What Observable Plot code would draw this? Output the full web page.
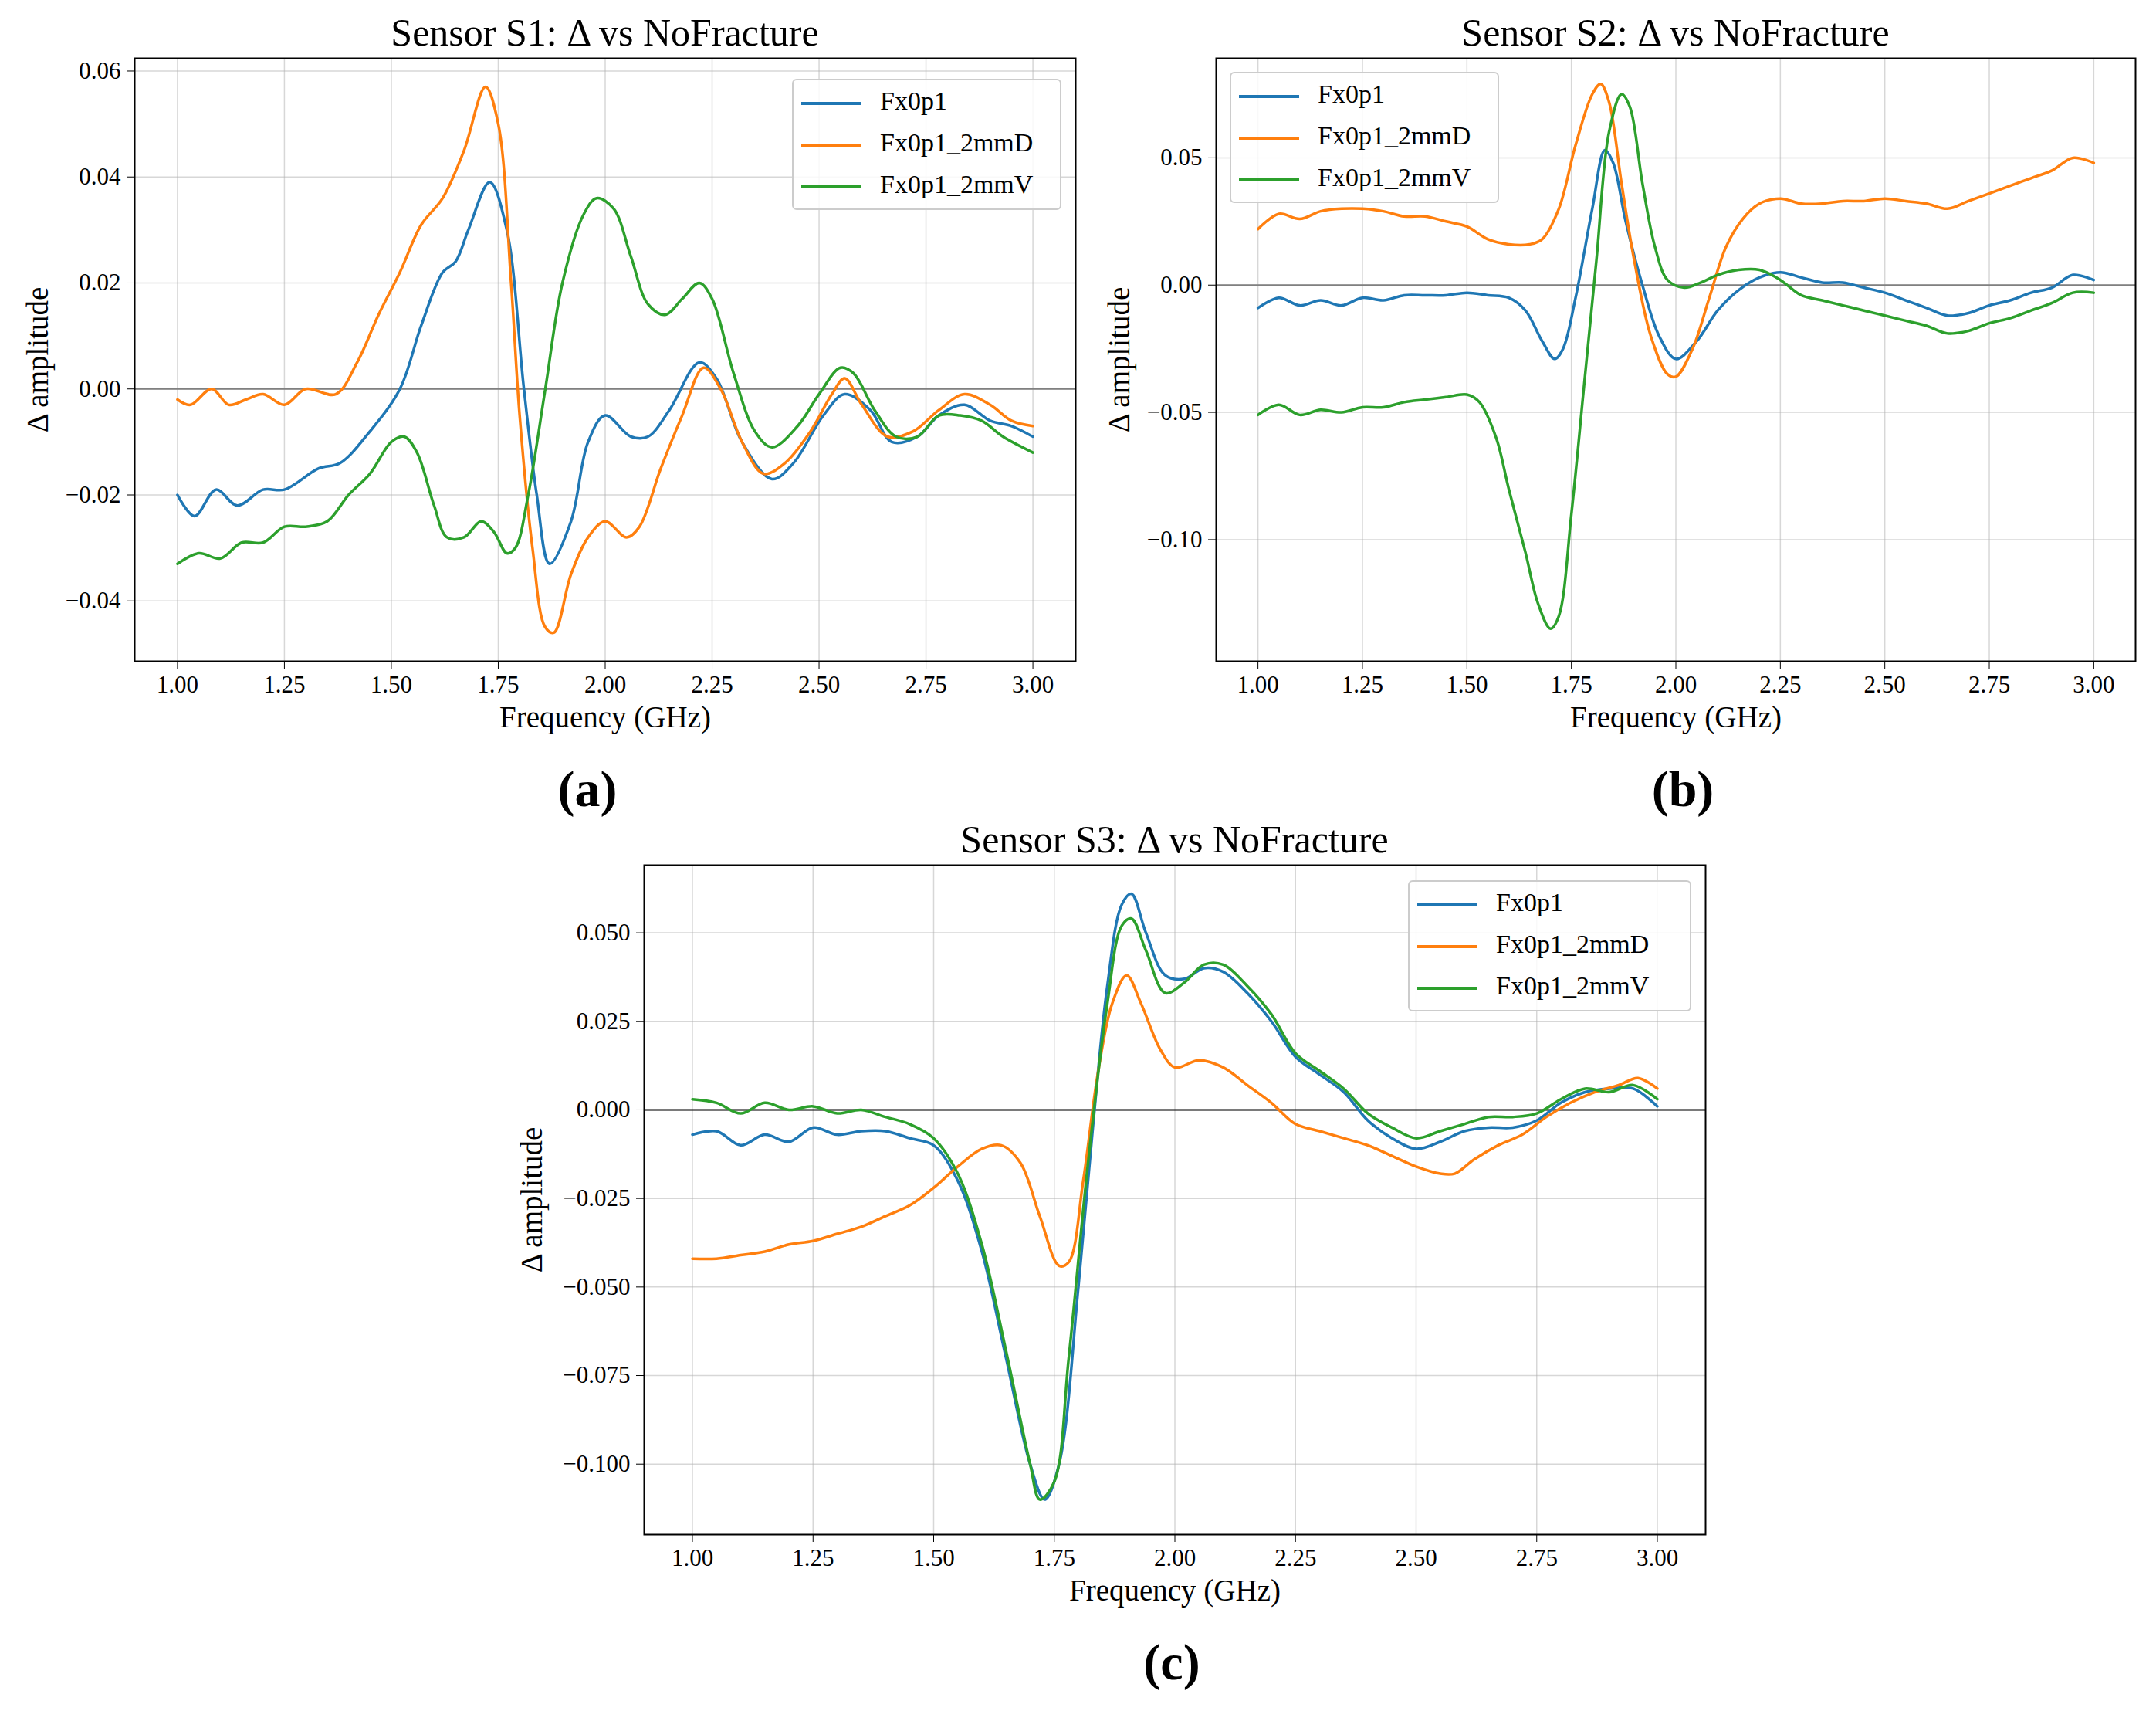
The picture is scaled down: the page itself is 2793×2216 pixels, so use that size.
<!DOCTYPE html>
<html><head><meta charset="utf-8">
<script src="https://cdn.jsdelivr.net/npm/d3@7"></script>
<script src="https://cdn.jsdelivr.net/npm/@observablehq/plot@0.6"></script>
<style>
body{margin:0;background:#fff;font-family:"Liberation Serif",serif;}
#root{position:relative;width:2793px;height:2216px;}
.abs{position:absolute;}
.title{font-size:50px;white-space:nowrap;transform:translateX(-50%);}
.tag{font-size:66px;font-weight:bold;transform:translateX(-50%);}
.leg{border:2px solid #ccc;border-radius:6px;background:rgba(255,255,255,0.85);font-size:34px;}
.leg div{position:absolute;white-space:nowrap;}
.leg span{display:inline-block;width:78px;height:4px;vertical-align:middle;margin-right:24px;}
</style></head><body><div id="root"></div>
<script>
const seriesNames = ["Fx0p1","Fx0p1_2mmD","Fx0p1_2mmV"];
const colors = ["#1f77b4","#ff7f0e","#2ca02c"];
const xTicks = [1.00,1.25,1.50,1.75,2.00,2.25,2.50,2.75,3.00];

// Panel (a)
const aBlueF=[1.00,1.04,1.09,1.14,1.20,1.25,1.33,1.38,1.45,1.52,1.57,1.62,1.65,1.68,1.73,1.77,1.81,1.84,1.87,1.92,1.96,2.00,2.06,2.10,2.15,2.22,2.26,2.32,2.39,2.44,2.51,2.56,2.62,2.67,2.73,2.78,2.84,2.90,2.95,3.00];
const aBlueV=[-0.020,-0.024,-0.019,-0.022,-0.019,-0.019,-0.015,-0.014,-0.008,0.000,0.012,0.022,0.024,0.030,0.039,0.030,0.000,-0.020,-0.033,-0.025,-0.010,-0.005,-0.009,-0.009,-0.004,0.005,0.002,-0.010,-0.017,-0.014,-0.005,-0.001,-0.004,-0.010,-0.009,-0.005,-0.003,-0.006,-0.007,-0.009];
const aOrangeF=[1.00,1.03,1.08,1.12,1.16,1.20,1.25,1.30,1.37,1.42,1.47,1.52,1.57,1.62,1.67,1.72,1.75,1.78,1.80,1.83,1.86,1.88,1.92,1.96,2.00,2.05,2.08,2.13,2.18,2.23,2.27,2.32,2.37,2.42,2.48,2.53,2.56,2.60,2.66,2.72,2.78,2.84,2.90,2.95,3.00];
const aOrangeV=[-0.002,-0.003,0.000,-0.003,-0.002,-0.001,-0.003,0.000,-0.001,0.005,0.014,0.022,0.031,0.036,0.045,0.057,0.050,0.020,-0.005,-0.030,-0.045,-0.046,-0.035,-0.028,-0.025,-0.028,-0.026,-0.015,-0.005,0.004,0.000,-0.010,-0.016,-0.014,-0.008,-0.001,0.002,-0.003,-0.009,-0.008,-0.004,-0.001,-0.003,-0.006,-0.007];
const aGreenF=[1.00,1.05,1.10,1.15,1.20,1.25,1.30,1.35,1.40,1.45,1.50,1.53,1.56,1.60,1.63,1.67,1.71,1.74,1.77,1.79,1.82,1.86,1.90,1.95,1.98,2.02,2.06,2.10,2.14,2.18,2.22,2.25,2.30,2.35,2.39,2.45,2.50,2.55,2.58,2.63,2.68,2.73,2.78,2.83,2.88,2.93,3.00];
const aGreenV=[-0.033,-0.031,-0.032,-0.029,-0.029,-0.026,-0.026,-0.025,-0.020,-0.016,-0.010,-0.009,-0.012,-0.022,-0.028,-0.028,-0.025,-0.027,-0.031,-0.030,-0.020,0.000,0.020,0.033,0.036,0.034,0.025,0.016,0.014,0.017,0.020,0.017,0.003,-0.008,-0.011,-0.007,-0.001,0.004,0.003,-0.004,-0.009,-0.009,-0.005,-0.005,-0.006,-0.009,-0.012];
const aYTicks=[-0.04,-0.02,0.00,0.02,0.04,0.06];

// Panel (b)
const bBlueF=[1.00,1.05,1.10,1.15,1.20,1.25,1.30,1.35,1.40,1.45,1.50,1.55,1.60,1.64,1.68,1.71,1.73,1.76,1.80,1.83,1.85,1.88,1.92,1.96,2.00,2.05,2.10,2.15,2.20,2.25,2.30,2.35,2.40,2.45,2.50,2.55,2.60,2.65,2.70,2.75,2.80,2.85,2.90,2.95,3.00];
const bBlueV=[-0.009,-0.005,-0.008,-0.006,-0.008,-0.005,-0.006,-0.004,-0.004,-0.004,-0.003,-0.004,-0.005,-0.010,-0.022,-0.029,-0.025,-0.005,0.030,0.053,0.048,0.025,0.000,-0.020,-0.029,-0.022,-0.010,-0.002,0.003,0.005,0.003,0.001,0.001,-0.001,-0.003,-0.006,-0.009,-0.012,-0.011,-0.008,-0.006,-0.003,-0.001,0.004,0.002];
const bOrangeF=[1.00,1.05,1.10,1.15,1.20,1.25,1.30,1.35,1.40,1.45,1.50,1.55,1.60,1.65,1.68,1.72,1.76,1.80,1.82,1.84,1.87,1.90,1.94,1.98,2.00,2.04,2.08,2.12,2.16,2.20,2.25,2.30,2.35,2.40,2.45,2.50,2.55,2.60,2.65,2.70,2.75,2.80,2.85,2.90,2.95,3.00];
const bOrangeV=[0.022,0.028,0.026,0.029,0.030,0.030,0.029,0.027,0.027,0.025,0.023,0.018,0.016,0.016,0.018,0.030,0.055,0.075,0.079,0.072,0.040,0.010,-0.020,-0.035,-0.036,-0.025,-0.005,0.015,0.026,0.032,0.034,0.032,0.032,0.033,0.033,0.034,0.033,0.032,0.030,0.033,0.036,0.039,0.042,0.045,0.050,0.048];
const bGreenF=[1.00,1.05,1.10,1.15,1.20,1.25,1.30,1.35,1.40,1.45,1.50,1.53,1.57,1.60,1.64,1.67,1.70,1.72,1.75,1.78,1.81,1.84,1.87,1.89,1.92,1.95,1.98,2.02,2.06,2.10,2.15,2.20,2.25,2.30,2.35,2.40,2.45,2.50,2.55,2.60,2.65,2.70,2.75,2.80,2.85,2.90,2.95,3.00];
const bGreenV=[-0.051,-0.047,-0.051,-0.049,-0.050,-0.048,-0.048,-0.046,-0.045,-0.044,-0.043,-0.046,-0.060,-0.080,-0.105,-0.125,-0.135,-0.130,-0.090,-0.040,0.010,0.060,0.075,0.070,0.040,0.015,0.002,-0.001,0.001,0.004,0.006,0.006,0.002,-0.004,-0.006,-0.008,-0.010,-0.012,-0.014,-0.016,-0.019,-0.018,-0.015,-0.013,-0.010,-0.007,-0.003,-0.003];
const bYTicks=[-0.10,-0.05,0.00,0.05];

// Panel (c)
const cBlueF=[1.00,1.05,1.10,1.15,1.20,1.25,1.30,1.35,1.40,1.45,1.50,1.55,1.60,1.65,1.70,1.73,1.76,1.80,1.83,1.86,1.89,1.91,1.94,1.98,2.02,2.06,2.10,2.15,2.20,2.25,2.30,2.35,2.40,2.45,2.50,2.55,2.60,2.65,2.70,2.75,2.80,2.85,2.90,2.95,3.00];
const cBlueV=[-0.007,-0.006,-0.010,-0.007,-0.009,-0.005,-0.007,-0.006,-0.006,-0.008,-0.010,-0.020,-0.040,-0.070,-0.100,-0.110,-0.100,-0.050,-0.005,0.035,0.058,0.061,0.050,0.038,0.037,0.040,0.039,0.033,0.025,0.015,0.010,0.005,-0.003,-0.008,-0.011,-0.009,-0.006,-0.005,-0.005,-0.003,0.002,0.005,0.006,0.006,0.001];
const cOrangeF=[1.00,1.05,1.10,1.15,1.20,1.25,1.30,1.35,1.40,1.45,1.50,1.55,1.60,1.64,1.68,1.72,1.76,1.78,1.81,1.84,1.87,1.90,1.93,1.97,2.00,2.05,2.10,2.15,2.20,2.25,2.30,2.35,2.40,2.45,2.50,2.55,2.58,2.62,2.67,2.72,2.77,2.82,2.87,2.92,2.96,3.00];
const cOrangeV=[-0.042,-0.042,-0.041,-0.040,-0.038,-0.037,-0.035,-0.033,-0.030,-0.027,-0.022,-0.016,-0.011,-0.010,-0.015,-0.030,-0.044,-0.043,-0.020,0.010,0.030,0.038,0.030,0.017,0.012,0.014,0.012,0.007,0.002,-0.004,-0.006,-0.008,-0.010,-0.013,-0.016,-0.018,-0.018,-0.014,-0.010,-0.007,-0.002,0.002,0.005,0.007,0.009,0.006];
const cGreenF=[1.00,1.05,1.10,1.15,1.20,1.25,1.30,1.35,1.40,1.45,1.50,1.55,1.60,1.65,1.70,1.72,1.75,1.78,1.82,1.86,1.89,1.91,1.94,1.98,2.02,2.06,2.10,2.15,2.20,2.25,2.30,2.35,2.40,2.45,2.50,2.55,2.60,2.65,2.70,2.75,2.80,2.85,2.90,2.95,3.00];
const cGreenV=[0.003,0.002,-0.001,0.002,0.000,0.001,-0.001,0.000,-0.002,-0.004,-0.008,-0.018,-0.038,-0.068,-0.100,-0.110,-0.105,-0.070,-0.015,0.030,0.052,0.054,0.045,0.033,0.036,0.041,0.041,0.035,0.027,0.016,0.011,0.006,-0.001,-0.005,-0.008,-0.006,-0.004,-0.002,-0.002,-0.001,0.003,0.006,0.005,0.007,0.003];
const cYTicks=[-0.100,-0.075,-0.050,-0.025,0.000,0.025,0.050];

const root=document.getElementById("root");
function add(html,cls,style){const d=document.createElement("div");d.className="abs "+cls;Object.assign(d.style,style);d.innerHTML=html;root.appendChild(d);return d;}

function panel(o){
  const mL=200,mR=20,mT=20,mB=160;
  const W=o.fr-o.fl, H=o.fb-o.ft;
  const rows=[];
  o.series.forEach((s,i)=>s[0].forEach((f,j)=>rows.push({f,v:s[1][j],name:seriesNames[i]})));
  const svg=Plot.plot({
    width:W+mL+mR,height:H+mT+mB,marginLeft:mL,marginRight:mR,marginTop:mT,marginBottom:mB,
    style:{fontFamily:"Liberation Serif, serif",fontSize:"31px",color:"#000",background:"transparent"},
    x:{domain:[0.9,3.1],ticks:xTicks,tickFormat:d3.format(".2f"),tickSize:10,tickPadding:8,label:"Frequency (GHz)",labelAnchor:"center",labelArrow:"none",labelOffset:85},
    y:{domain:o.yd,ticks:o.yt,tickFormat:d=>d3.format(o.fmt)(d).replace("-","\u2212"),tickSize:10,tickPadding:8,label:"\u0394 amplitude",labelAnchor:"center",labelArrow:"none",labelOffset:o.lo},
    color:{domain:seriesNames,range:colors},
    marks:[
      Plot.gridX(xTicks,{stroke:"#b0b0b0",strokeOpacity:0.5,strokeWidth:1.5}),
      Plot.gridY(o.yt,{stroke:"#b0b0b0",strokeOpacity:0.5,strokeWidth:1.5}),
      Plot.ruleY([0],{stroke:o.zc,strokeWidth:2}),
      Plot.line(rows,{x:"f",y:"v",z:"name",stroke:"name",strokeWidth:3.5,curve:"catmull-rom"}),
      Plot.frame({stroke:"#000",strokeWidth:2})
    ]
  });
  svg.querySelectorAll("g[aria-label='x-axis label'] text, g[aria-label='y-axis label'] text").forEach(t=>t.style.fontSize="39px");
  svg.style.position="absolute";svg.style.left=(o.fl-mL)+"px";svg.style.top=(o.ft-mT)+"px";
  root.appendChild(svg);
  add(o.title,"title",{left:((o.fl+o.fr)/2)+"px",top:(o.ft-62)+"px"});
  add(o.tag,"tag",{left:o.tagx+"px",top:(o.fb+128)+"px"});
  const lg=add("","leg",{left:o.lx+"px",top:o.ly+"px",width:o.lw+"px",height:"166px"});
  seriesNames.forEach((n,i)=>{const d=document.createElement("div");d.style.left="10px";d.style.top=(8+i*54)+"px";d.innerHTML=`<span style="background:${colors[i]}"></span>${n}`;lg.appendChild(d);});
}

panel({fl:174,fr:1393,ft:75,fb:856,yd:[-0.0514,0.0624],yt:aYTicks,fmt:".2f",lo:140,zc:"#808080",
  series:[[aBlueF,aBlueV],[aOrangeF,aOrangeV],[aGreenF,aGreenV]],title:"Sensor S1: \u0394 vs NoFracture",tag:"(a)",tagx:761,lx:1026,ly:102,lw:345});
panel({fl:1575,fr:2766,ft:75,fb:856,yd:[-0.1478,0.0891],yt:bYTicks,fmt:".2f",lo:140,zc:"#808080",
  series:[[bBlueF,bBlueV],[bOrangeF,bOrangeV],[bGreenF,bGreenV]],title:"Sensor S2: \u0394 vs NoFracture",tag:"(b)",tagx:2180,lx:1593,ly:93,lw:345});
panel({fl:834,fr:2209,ft:1120,fb:1987,yd:[-0.1199,0.0691],yt:cYTicks,fmt:".3f",lo:160,zc:"#000",
  series:[[cBlueF,cBlueV],[cOrangeF,cOrangeV],[cGreenF,cGreenV]],title:"Sensor S3: \u0394 vs NoFracture",tag:"(c)",tagx:1518,lx:1824,ly:1140,lw:363});
</script></body></html>
